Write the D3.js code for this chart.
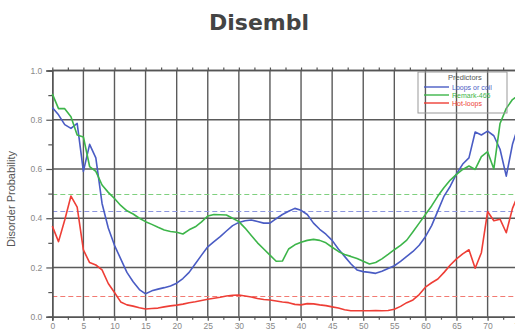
<!DOCTYPE html>
<html><head><meta charset="utf-8">
<script src="https://cdn.jsdelivr.net/npm/d3@7"></script>
<style>body{margin:0;background:#fff}svg{display:block}</style>
</head><body>
<script>
const positions = d3.range(0, 76);
const loopsCoil = [0.85,0.82,0.78,0.765,0.785,0.59,0.70,0.645,0.46,0.36,0.29,0.235,0.18,0.142,0.11,0.093,0.105,0.112,0.118,0.125,0.136,0.155,0.18,0.215,0.25,0.284,0.305,0.325,0.348,0.37,0.383,0.39,0.393,0.387,0.38,0.38,0.398,0.415,0.428,0.44,0.432,0.415,0.38,0.355,0.335,0.31,0.275,0.245,0.215,0.19,0.183,0.18,0.176,0.185,0.196,0.207,0.225,0.245,0.265,0.29,0.325,0.37,0.43,0.49,0.53,0.58,0.62,0.645,0.75,0.738,0.754,0.735,0.68,0.571,0.70,0.78];
const remark465 = [0.905,0.845,0.845,0.812,0.738,0.73,0.61,0.59,0.535,0.505,0.48,0.452,0.43,0.417,0.4,0.386,0.375,0.363,0.352,0.346,0.343,0.336,0.353,0.365,0.385,0.409,0.415,0.414,0.413,0.4,0.386,0.36,0.33,0.3,0.275,0.25,0.225,0.226,0.275,0.292,0.302,0.31,0.314,0.31,0.3,0.282,0.265,0.253,0.245,0.236,0.225,0.214,0.22,0.235,0.253,0.272,0.29,0.311,0.345,0.38,0.415,0.45,0.49,0.525,0.555,0.578,0.598,0.612,0.598,0.65,0.67,0.6,0.785,0.846,0.882,0.9];
const hotLoops = [0.368,0.305,0.393,0.49,0.445,0.271,0.22,0.21,0.19,0.135,0.098,0.06,0.048,0.043,0.036,0.031,0.033,0.035,0.04,0.044,0.047,0.051,0.057,0.061,0.066,0.071,0.075,0.079,0.084,0.087,0.088,0.084,0.08,0.074,0.07,0.068,0.064,0.06,0.057,0.05,0.048,0.053,0.052,0.048,0.045,0.04,0.035,0.028,0.024,0.024,0.024,0.024,0.025,0.024,0.025,0.03,0.042,0.057,0.068,0.09,0.12,0.138,0.153,0.18,0.21,0.235,0.255,0.272,0.197,0.26,0.427,0.39,0.396,0.341,0.44,0.5];
const seriesNames = ["Loops or coil","Remark-465","Hot-loops"];
const seriesColors = ["#4a5cc4","#3db54a","#ee3e36"];
const thresholdColors = ["#8c96e0","#7fd07f","#f27a72"];
const thresholds = [0.43, 0.5, 0.086];
const xTicks = d3.range(0, 80, 5);
const yTicks = [0, 0.2, 0.4, 0.6, 0.8, 1.0];
const titleText = "Disembl";
const yLabel = "Disorder Probability";
const legendTitle = "Predictors";

const W = 515, H = 331;
const svg = d3.select("body").append("svg").attr("width", W).attr("height", H);
const x = d3.scaleLinear().domain([0, 75]).range([52.3, 518.7]);
const y = d3.scaleLinear().domain([0, 1]).range([316.7, 70.5]);

svg.append("text").attr("x", 259).attr("y", 30).attr("text-anchor", "middle")
  .attr("font-family", "DejaVu Sans").attr("font-weight", "bold").attr("font-size", 22)
  .attr("fill", "#444").text(titleText);

const gridColor = "#5a5a5a";
const g = svg.append("g");
g.selectAll("line.vg").data(xTicks.filter(d => d > 0)).join("line").attr("class", "vg")
  .attr("x1", d => x(d)).attr("x2", d => x(d)).attr("y1", y(1)).attr("y2", y(0))
  .attr("stroke", gridColor).attr("stroke-width", 1.4);
g.selectAll("line.hg").data(yTicks.filter(d => d > 0)).join("line").attr("class", "hg")
  .attr("x1", x(0)).attr("x2", W + 10).attr("y1", d => y(d)).attr("y2", d => y(d))
  .attr("stroke", gridColor).attr("stroke-width", 1.4);

g.selectAll("line.th").data(thresholds).join("line").attr("class", "th")
  .attr("x1", x(0)).attr("x2", W + 10).attr("y1", d => Math.round(y(d)) + 0.5).attr("y2", d => Math.round(y(d)) + 0.5)
  .attr("stroke", (d, i) => thresholdColors[i])
  .attr("stroke-width", 1.2).attr("stroke-dasharray", "5,3");

const axisColor = "#555";
const yAxis = svg.append("g").attr("transform", `translate(${x(0)},0)`)
  .call(d3.axisLeft(y).tickValues(yTicks).tickFormat(d3.format(".1f")).tickSize(6).tickPadding(4));
const yMinor = svg.append("g").attr("transform", `translate(${x(0)},0)`)
  .call(d3.axisLeft(y).tickValues([0.1,0.3,0.5,0.7,0.9]).tickFormat("").tickSize(4));
const xAxis = svg.append("g").attr("transform", `translate(0,${y(0)})`)
  .call(d3.axisBottom(x).tickValues(xTicks).tickSize(4).tickPadding(2));
const xMinor = svg.append("g").attr("transform", `translate(0,${y(0)})`)
  .call(d3.axisBottom(x).tickValues(xTicks.map(d => d + 2.5)).tickFormat("").tickSize(3));
const xTop = svg.append("g").attr("transform", `translate(0,${y(1)})`)
  .call(d3.axisTop(x).tickValues(d3.range(0, 80, 2.5)).tickFormat("").tickSize(3));
[yAxis, yMinor, xAxis, xMinor, xTop].forEach(a => {
  a.select(".domain").attr("stroke", axisColor).attr("stroke-width", 1.4);
  a.selectAll(".tick line").attr("stroke", axisColor).attr("stroke-width", 1.2);
  a.selectAll("text").attr("fill", "#888").attr("font-size", 8.5).attr("font-family", "Liberation Sans");
});
xTop.select(".domain").attr("d", `M${x(0)},0H${W + 10}`);

svg.append("text").attr("transform", `translate(15,199) rotate(-90)`)
  .attr("text-anchor", "middle").attr("font-family", "Liberation Sans").attr("font-size", 11)
  .attr("fill", "#555").text(yLabel);

const allSeries = [loopsCoil, remark465, hotLoops];
const line = d3.line().x((d, i) => x(positions[i])).y(d => y(d));
svg.selectAll("path.series").data(allSeries).join("path").attr("class", "series")
  .attr("d", d => line(d)).attr("fill", "none")
  .attr("stroke", (d, i) => seriesColors[i]).attr("stroke-width", 1.6)
  .attr("stroke-linejoin", "round");

const lg = svg.append("g");
lg.append("rect").attr("x", 418).attr("y", 72).attr("width", 89).attr("height", 41)
  .attr("fill", "none").attr("stroke", "#999").attr("stroke-width", 1);
lg.append("text").attr("x", 465).attr("y", 79.5).attr("text-anchor", "middle")
  .attr("font-family", "Liberation Sans").attr("font-size", 7.5).attr("fill", "#555").text(legendTitle);
const rowsY = [87, 95, 103];
seriesNames.forEach((n, i) => {
  lg.append("line").attr("x1", 424).attr("x2", 449).attr("y1", rowsY[i]).attr("y2", rowsY[i])
    .attr("stroke", seriesColors[i]).attr("stroke-width", 1.4);
  lg.append("text").attr("x", 452).attr("y", rowsY[i] + 2.5).attr("font-family", "Liberation Sans")
    .attr("font-size", 7).attr("fill", seriesColors[i]).text(n);
});
</script>
</body></html>
